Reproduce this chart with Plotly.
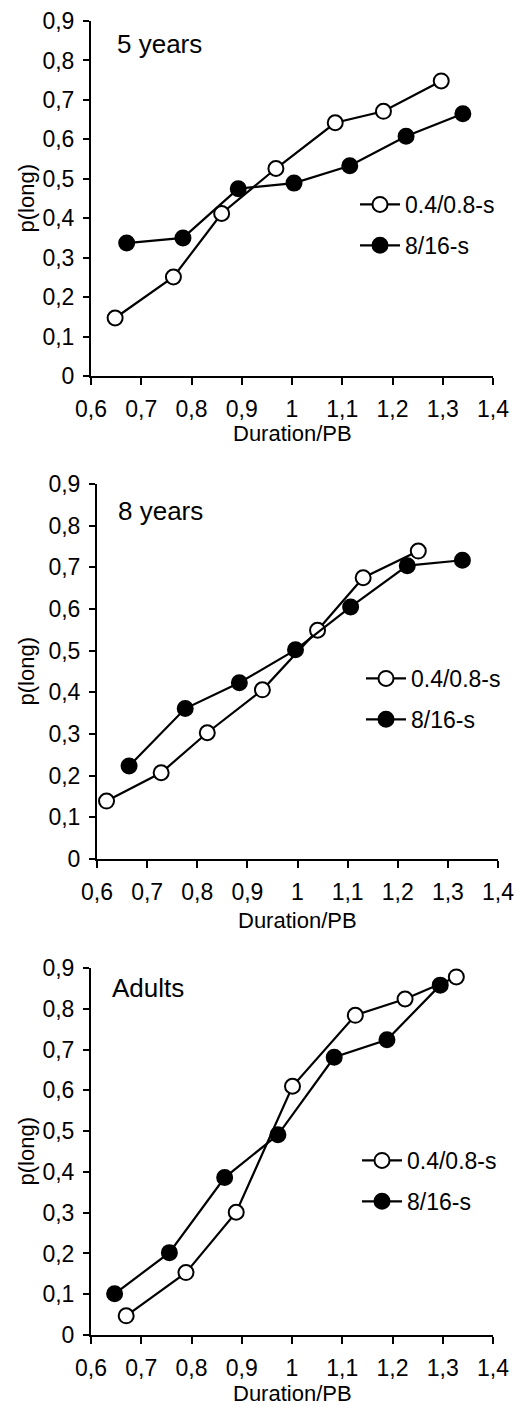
import plotly.graph_objects as go

W, H = 517, 1407

# ---- data ----
panel_labels = ["5 years", "8 years", "Adults"]
series_names = ["0.4/0.8-s", "8/16-s"]

x5_open = [0.648, 0.764, 0.860, 0.968, 1.086, 1.182, 1.297]
y5_open = [0.147, 0.251, 0.412, 0.526, 0.642, 0.671, 0.748]
x5_fill = [0.671, 0.783, 0.893, 1.004, 1.115, 1.227, 1.340]
y5_fill = [0.337, 0.350, 0.475, 0.489, 0.533, 0.608, 0.665]

x8_open = [0.619, 0.728, 0.820, 0.930, 1.040, 1.131, 1.241]
y8_open = [0.139, 0.207, 0.303, 0.406, 0.549, 0.675, 0.739]
x8_fill = [0.664, 0.776, 0.884, 0.996, 1.106, 1.219, 1.329]
y8_fill = [0.223, 0.361, 0.423, 0.502, 0.605, 0.704, 0.717]

xa_open = [0.670, 0.789, 0.889, 1.001, 1.126, 1.225, 1.327]
ya_open = [0.047, 0.153, 0.301, 0.610, 0.784, 0.824, 0.878]
xa_fill = [0.647, 0.756, 0.866, 0.972, 1.084, 1.189, 1.295]
ya_fill = [0.101, 0.202, 0.386, 0.491, 0.681, 0.724, 0.858]

x_tickvals = [0.6, 0.7, 0.8, 0.9, 1.0, 1.1, 1.2, 1.3, 1.4]
x_ticktext = ["0,6", "0,7", "0,8", "0,9", "1", "1,1", "1,2", "1,3", "1,4"]
y_tickvals = [0, 0.1, 0.2, 0.3, 0.4, 0.5, 0.6, 0.7, 0.8, 0.9]
y_ticktext = ["0", "0,1", "0,2", "0,3", "0,4", "0,5", "0,6", "0,7", "0,8", "0,9"]

panels = [
    (x5_open, y5_open, x5_fill, y5_fill),
    (x8_open, y8_open, x8_fill, y8_fill),
    (xa_open, ya_open, xa_fill, ya_fill),
]

# ---- layout geometry (pixels) ----
boxes = [(91, 493, 21, 376), (97, 498, 484, 859), (91, 493, 968, 1335)]
legend_pos = [(355, 183), (361, 657), (357, 1139)]
label_pos = [(115, 44), (116, 511), (110, 988)]
xtitle_y = [434, 920, 1393]
ytitle_x = 26

FONT = "Liberation Sans, Arial, sans-serif"
TICK = 23

fig = go.Figure()
layout = dict(
    width=W, height=H,
    margin=dict(l=0, r=0, t=0, b=0, autoexpand=False),
    paper_bgcolor="white", plot_bgcolor="white",
    font=dict(family=FONT, size=22, color="black"),
    showlegend=True,
)
annotations = []

for i, (xo, yo, xf, yf) in enumerate(panels):
    n = "" if i == 0 else str(i + 1)
    xa, ya = "x" + n, "y" + n
    lg = "legend" + n
    l, r, t, b = boxes[i]
    layout["xaxis" + n] = dict(
        domain=[l / W, r / W], anchor=ya, range=[0.6, 1.4],
        tickvals=x_tickvals, ticktext=x_ticktext, automargin=False,
        showline=True, linecolor="black", linewidth=2,
        ticks="outside", ticklen=7, tickwidth=2, tickcolor="black",
        showgrid=False, zeroline=False, ticklabelstandoff=4,
        tickfont=dict(size=TICK, family=FONT),
    )
    layout["yaxis" + n] = dict(
        domain=[1 - b / H, 1 - t / H], anchor=xa, range=[0, 0.9],
        tickvals=y_tickvals, ticktext=y_ticktext, automargin=False,
        showline=True, linecolor="black", linewidth=2,
        ticks="outside", ticklen=6, tickwidth=2, tickcolor="black",
        showgrid=False, zeroline=False, ticklabelstandoff=4,
        tickfont=dict(size=TICK, family=FONT),
    )
    fig.add_trace(go.Scatter(
        x=xo, y=yo, xaxis=xa, yaxis=ya, mode="lines+markers",
        name=series_names[0], legend=lg, legendgroup="a" + n,
        line=dict(color="black", width=2.2),
        marker=dict(symbol="circle", size=15, color="white",
                    line=dict(color="black", width=2)),
        cliponaxis=False,
    ))
    fig.add_trace(go.Scatter(
        x=xf, y=yf, xaxis=xa, yaxis=ya, mode="lines+markers",
        name=series_names[1], legend=lg, legendgroup="b" + n,
        line=dict(color="black", width=2.2),
        marker=dict(symbol="circle", size=15, color="black",
                    line=dict(color="black", width=2)),
        cliponaxis=False,
    ))
    lx, ly = legend_pos[i]
    layout[lg] = dict(
        x=lx / W, y=1 - ly / H, xanchor="left", yanchor="top",
        xref="paper", yref="paper",
        bgcolor="rgba(0,0,0,0)", borderwidth=0,
        font=dict(size=23, family=FONT),
        tracegroupgap=8, traceorder="grouped", itemwidth=40,
    )
    px_, py_ = label_pos[i]
    annotations.append(dict(
        text=panel_labels[i], x=px_ / W, y=1 - py_ / H, xref="paper", yref="paper",
        xanchor="left", yanchor="middle", showarrow=False,
        font=dict(size=26, family=FONT),
    ))
    annotations.append(dict(
        text="Duration/PB", x=((l + r) / 2) / W, y=1 - xtitle_y[i] / H,
        xref="paper", yref="paper", xanchor="center", yanchor="middle",
        showarrow=False, font=dict(size=22, family=FONT),
    ))
    annotations.append(dict(
        text="p(long)", x=ytitle_x / W, y=1 - ((t + b) / 2) / H,
        xref="paper", yref="paper", xanchor="center", yanchor="middle",
        textangle=-90, showarrow=False, font=dict(size=22, family=FONT),
    ))

layout["annotations"] = annotations
fig.update_layout(**layout)
fig.write_html("out.html")
